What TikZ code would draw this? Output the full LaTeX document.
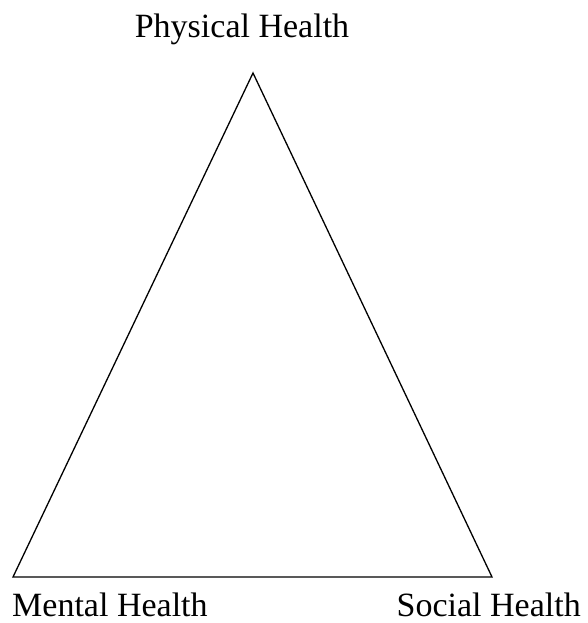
\documentclass[tikz,border=0pt]{standalone}
\usepackage{fontspec}
\setmainfont{Liberation Serif}
\begin{document}
\begin{tikzpicture}[x=1pt,y=1pt,
  lbl/.style={inner sep=0pt,font=\fontsize{34}{40}\selectfont}]
\useasboundingbox (0,0) rectangle (587,623);
\coordinate (top) at (253,550);
\coordinate (bl) at (13,46);
\coordinate (br) at (492,46);
\draw[line width=1.3pt,line join=miter] (top) -- (bl) -- (br) -- cycle;
\node[lbl,anchor=base] (phys) at (242,585) {Physical Health};
\node[lbl,anchor=base west] (mental) at (12,6) {Mental Health};
\node[lbl,anchor=base east] (social) at (581,6) {Social Health};
\end{tikzpicture}
\end{document}
